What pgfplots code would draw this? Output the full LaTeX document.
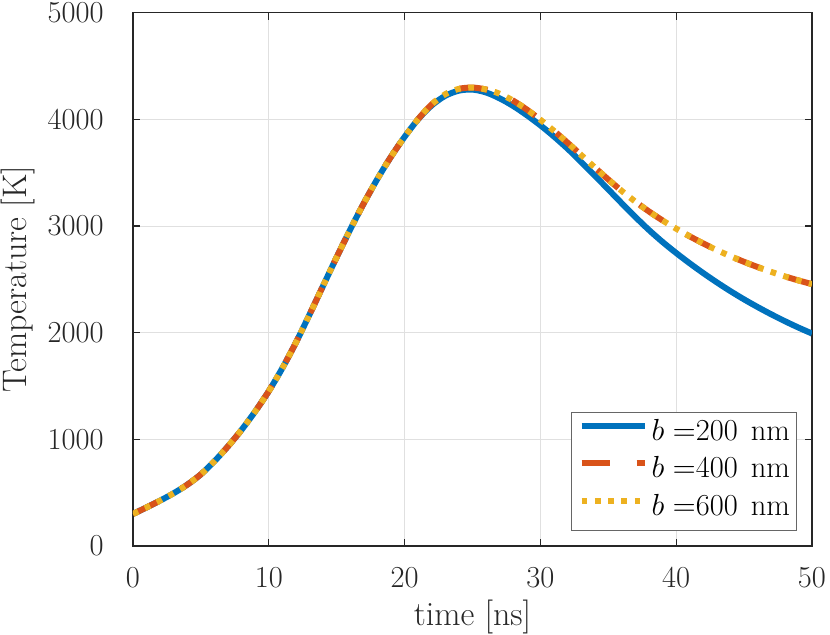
\RequirePackage{fix-cm}
\documentclass[border=0pt]{standalone}
\usepackage{fontspec}
\usepackage{pgfplots}
\pgfplotsset{compat=1.18}
\usepackage{pgfplotstable}
\definecolor{mblue}{rgb}{0,0.447,0.741}
\definecolor{morange}{rgb}{0.850,0.325,0.098}
\definecolor{myellow}{rgb}{0.929,0.694,0.125}
\definecolor{axgray}{rgb}{0.15,0.15,0.15}
\definecolor{gridgray}{rgb}{0.88,0.88,0.88}

\pgfplotstableread{
t T
0 300
1 362
2 426
3 495
4 575
5 672
6 795
7 935
8 1090
9 1262
10 1452
11 1668
12 1908
13 2170
14 2440
15 2708
16 2968
17 3214
18 3442
19 3650
20 3836
21 4001
22 4131
23 4221
24 4269
25 4279
26 4252
27 4197
28 4125
29 4039
30 3944
31 3839
32 3725
33 3601
34 3473
35 3343
36 3212
37 3084
38 2962
39 2850
40 2747
41 2650
42 2558
43 2471
44 2389
45 2312
46 2240
47 2172
48 2108
49 2048
50 1992
}\dataA

\pgfplotstableread{
t T
0 300
1 362
2 426
3 495
4 575
5 672
6 795
7 935
8 1090
9 1262
10 1452
11 1668
12 1908
13 2170
14 2440
15 2708
16 2968
17 3214
18 3442
19 3650
20 3836
21 4003
22 4141
23 4236
24 4286
25 4298
26 4280
27 4240
28 4175
29 4092
30 3996
31 3892
32 3781
33 3666
34 3550
35 3436
36 3328
37 3228
38 3136
39 3052
40 2975
41 2903
42 2836
43 2774
44 2717
45 2664
46 2615
47 2570
48 2528
49 2490
50 2455
}\dataB

\pgfplotstableread{
t T
0 300
1 362
2 426
3 495
4 575
5 672
6 795
7 935
8 1090
9 1262
10 1452
11 1668
12 1908
13 2170
14 2440
15 2708
16 2968
17 3214
18 3442
19 3650
20 3836
21 4003
22 4141
23 4236
24 4286
25 4298
26 4280
27 4240
28 4175
29 4092
30 3996
31 3892
32 3781
33 3666
34 3550
35 3436
36 3328
37 3228
38 3136
39 3052
40 2975
41 2903
42 2836
43 2774
44 2717
45 2664
46 2615
47 2570
48 2528
49 2490
50 2455
}\dataC

\begin{document}
\begin{tikzpicture}
\useasboundingbox (-66.5pt,-44.5pt) rectangle (348.5pt,273pt);
\begin{axis}[
  at={(0,0)}, anchor=south west,
  scale only axis,
  width=339.5pt, height=266.65pt,
  xmin=0, xmax=50, ymin=0, ymax=5000,
  xtick={0,10,...,50},
  ytick={0,1000,...,5000},
  /pgf/number format/1000 sep={},
  /pgf/number format/assume math mode=true,
  tick align=inside,
  major tick length=3.5pt,
  axis line style={draw=axgray, line width=0.6pt},
  every tick/.style={draw=axgray, line width=0.6pt},
  grid=major,
  major grid style={draw=gridgray, line width=0.5pt},
  tick label style={font=\fontsize{15.25}{18}\selectfont, text=axgray},
  xticklabel style={anchor=north, inner sep=0pt, yshift=-10.5pt},
  yticklabel style={anchor=east, inner sep=0pt, xshift=-14.5pt},
  label style={font=\fontsize{17}{20}\selectfont, text=axgray},
  xlabel={time [ns]},
  ylabel={Temperature [K]},
  xlabel style={at={(axis description cs:0.5,-0.15)}, anchor=base, inner sep=0pt},
  ylabel style={at={(axis description cs:-0.1575,0.5)}, anchor=base, inner sep=0pt},
  legend style={
    at={(axis description cs:0.97791,0.02813)}, anchor=south east,
    draw={rgb,1:red,0.4;green,0.4;blue,0.4}, line width=0.5pt,
    font=\fontsize{15.25}{18}\selectfont,
    inner xsep=3.3pt, inner ysep=3.5pt,
    row sep=4.25pt,
    nodes={inner sep=0pt, text height=10.5pt, text depth=4pt, text=black},
    column sep=2pt,
  },
  legend cell align=left,
  legend image code/.code={\draw[#1] (0pt,4.2pt) -- (31.5pt,4.2pt);},
]
\addplot[mblue, line width=3pt, smooth] table[x=t,y=T] {\dataA};
\addlegendentry{$b=$200\hspace{0.42em}nm}
\addplot[morange, line width=3pt, line cap=butt, dash pattern=on 14pt off 13.5pt, smooth] table[x=t,y=T] {\dataB};
\addlegendentry{$b=$400\hspace{0.42em}nm}
\addplot[myellow, line width=3pt, line cap=butt, dash pattern=on 2.85pt off 3.8pt, smooth] table[x=t,y=T] {\dataC};
\addlegendentry{$b=$600\hspace{0.42em}nm}
\end{axis}
\end{tikzpicture}
\end{document}
